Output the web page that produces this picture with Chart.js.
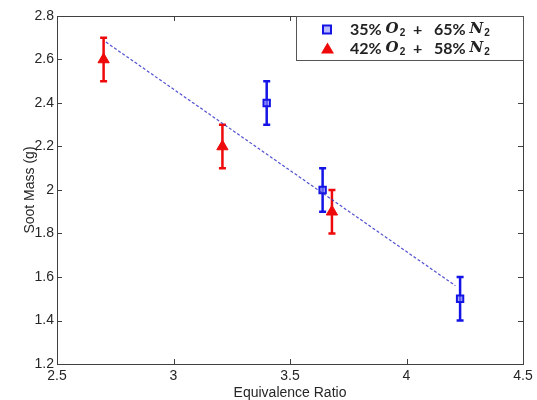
<!DOCTYPE html>
<html>
<head>
<meta charset="utf-8">
<script src="https://cdn.jsdelivr.net/npm/chart.js@4/dist/chart.umd.min.js"></script>
<style>
  html, body { margin: 0; padding: 0; background: #fff; }
  canvas { display: block; }
</style>
</head>
<body>
<canvas id="c" width="537" height="400"></canvas>
<script>
// ---- data ----
const blueX   = [3.40, 3.64, 4.23];
const blueY   = [2.40, 2.00, 1.50];
const blueErr = [0.10, 0.10, 0.10];

const redX    = [2.70, 3.21, 3.68];
const redY    = [2.60, 2.20, 1.90];
const redErr  = [0.10, 0.10, 0.10];

const trendX  = [2.71, 4.21];
const trendY  = [2.68, 1.56];

const xTicks  = [2.5, 3, 3.5, 4, 4.5];
const yTicks  = [1.2, 1.4, 1.6, 1.8, 2.0, 2.2, 2.4, 2.6, 2.8];

const xTitle  = 'Equivalence Ratio';
const yTitle  = 'Soot Mass (g)';
const legendRows = [
  { parts: ['35% ', 'O', '2', '  +   65% ', 'N', '2'] },
  { parts: ['42% ', 'O', '2', '  +   58% ', 'N', '2'] }
];

const BLUE = '#1414e6';
const RED  = '#ee0a0a';
const AXIS = '#404040';
const TXT  = '#262626';

const toPts = (xs, ys) => xs.map((x, i) => ({ x: x, y: ys[i] }));
const fmt = v => String(Math.round(v * 10) / 10);

// error bars drawn through the library's scales
const errorBars = {
  id: 'errorBars',
  beforeDatasetsDraw(chart) {
    const { ctx, scales: { x, y } } = chart;
    const sets = [
      { xs: blueX, ys: blueY, es: blueErr, c: BLUE },
      { xs: redX,  ys: redY,  es: redErr,  c: RED }
    ];
    ctx.save();
    sets.forEach(s => {
      ctx.strokeStyle = s.c;
      ctx.lineWidth = 2.5;
      s.xs.forEach((xv, i) => {
        const px = x.getPixelForValue(xv);
        const pt = y.getPixelForValue(s.ys[i] + s.es[i]);
        const pb = y.getPixelForValue(s.ys[i] - s.es[i]);
        ctx.beginPath();
        ctx.moveTo(px, pt); ctx.lineTo(px, pb);
        ctx.moveTo(px - 3.5, pt); ctx.lineTo(px + 3.5, pt);
        ctx.moveTo(px - 3.5, pb); ctx.lineTo(px + 3.5, pb);
        ctx.stroke();
      });
    });
    ctx.restore();
  }
};

// MATLAB-like box with inward ticks on all four sides, plus legend
const frameBox = {
  id: 'frameBox',
  afterDraw(chart) {
    const { ctx, chartArea: a, scales: { x, y } } = chart;
    ctx.save();
    ctx.strokeStyle = AXIS;
    ctx.lineWidth = 1;
    ctx.beginPath();
    ctx.rect(Math.round(a.left) + 0.5, Math.round(a.top) + 0.5,
             Math.round(a.right - a.left), Math.round(a.bottom - a.top));
    ctx.stroke();
    const L = 5;
    ctx.beginPath();
    xTicks.forEach(v => {
      const px = Math.round(x.getPixelForValue(v)) + 0.5;
      ctx.moveTo(px, a.bottom); ctx.lineTo(px, a.bottom - L);
      ctx.moveTo(px, a.top); ctx.lineTo(px, a.top + L);
    });
    yTicks.forEach(v => {
      const py = Math.round(y.getPixelForValue(v)) + 0.5;
      ctx.moveTo(a.left, py); ctx.lineTo(a.left + L, py);
      ctx.moveTo(a.right, py); ctx.lineTo(a.right - L, py);
    });
    ctx.stroke();

    // legend
    const lx = 296, ly = Math.round(a.top) + 0.5, lw = Math.round(a.right) - 296, lh = 44;
    ctx.fillStyle = '#fff';
    ctx.fillRect(lx, ly, lw, lh);
    ctx.strokeStyle = '#555';
    ctx.strokeRect(lx + 0.5, ly, lw, lh);

    const rowsY = [ly + 13, ly + 32];
    ctx.lineWidth = 2;
    ctx.strokeStyle = BLUE;
    ctx.fillStyle = 'rgba(140,140,255,0.6)';
    ctx.fillRect(323, rowsY[0] - 4, 8, 8);
    ctx.strokeRect(323, rowsY[0] - 4, 8, 8);
    ctx.fillStyle = RED;
    ctx.beginPath();
    ctx.moveTo(327.5, rowsY[1] - 6);
    ctx.lineTo(334, rowsY[1] + 5);
    ctx.lineTo(321, rowsY[1] + 5);
    ctx.closePath();
    ctx.fill();

    ctx.fillStyle = '#222';
    ctx.textBaseline = 'middle';
    legendRows.forEach((row, r) => {
      let cx = 350;
      const cy = rowsY[r];
      row.parts.forEach(p => {
        if (p === 'O' || p === 'N') {
          ctx.font = 'italic bold 15px "DejaVu Serif", serif';
          ctx.fillText(p, cx, cy);
        } else if (p === '2') {
          ctx.font = 'bold 10px "Liberation Sans", Arial, sans-serif';
          ctx.fillText(p, cx, cy + 4);
        } else {
          ctx.font = 'bold 16px "Lato", "Open Sans", sans-serif';
          ctx.fillText(p, cx, cy);
        }
        cx += ctx.measureText(p).width + (p === 'O' || p === 'N' ? 1 : 0);
      });
    });
    ctx.restore();
  }
};

new Chart(document.getElementById('c'), {
  type: 'scatter',
  data: {
    datasets: [
      {
        type: 'line',
        data: toPts(trendX, trendY),
        borderColor: 'rgba(50,50,200,0.85)',
        borderWidth: 1.2,
        borderDash: [3, 2],
        pointRadius: 0,
        fill: false,
        tension: 0
      },
      {
        data: toPts(blueX, blueY),
        pointStyle: 'rect',
        pointRadius: 4.5,
        borderWidth: 2,
        borderColor: BLUE,
        backgroundColor: 'rgba(140,140,255,0.6)'
      },
      {
        data: toPts(redX, redY),
        pointStyle: 'triangle',
        pointRadius: 6.5,
        borderWidth: 1,
        borderColor: RED,
        backgroundColor: RED
      }
    ]
  },
  options: {
    responsive: false,
    animation: false,
    events: [],
    layout: { padding: { top: 16, right: 14, left: 0, bottom: 0 } },
    plugins: { legend: { display: false }, tooltip: { enabled: false } },
    scales: {
      x: {
        type: 'linear',
        min: 2.5, max: 4.5,
        afterBuildTicks: s => { s.ticks = xTicks.map(v => ({ value: v })); },
        afterFit: s => { s.height = 36; },
        ticks: { color: TXT, padding: 4, callback: fmt,
                 font: { family: '"Liberation Sans", Arial, sans-serif', size: 14 } },
        grid: { drawOnChartArea: false, drawTicks: false },
        border: { color: AXIS },
        title: { display: true, text: xTitle, color: TXT, padding: { top: 0, bottom: -2 },
                 font: { family: '"Liberation Sans", Arial, sans-serif', size: 14 } }
      },
      y: {
        type: 'linear',
        min: 1.2, max: 2.8,
        afterBuildTicks: s => { s.ticks = yTicks.map(v => ({ value: v })); },
        afterFit: s => { s.width = 57; },
        ticks: { color: TXT, padding: 3, callback: fmt,
                 font: { family: '"Liberation Sans", Arial, sans-serif', size: 14 } },
        grid: { drawOnChartArea: false, drawTicks: false },
        border: { color: AXIS },
        title: { display: true, text: yTitle, color: TXT, padding: { top: 22, bottom: 0 },
                 font: { family: '"Liberation Sans", Arial, sans-serif', size: 14 } }
      }
    }
  },
  plugins: [errorBars, frameBox]
});
</script>
</body>
</html>
